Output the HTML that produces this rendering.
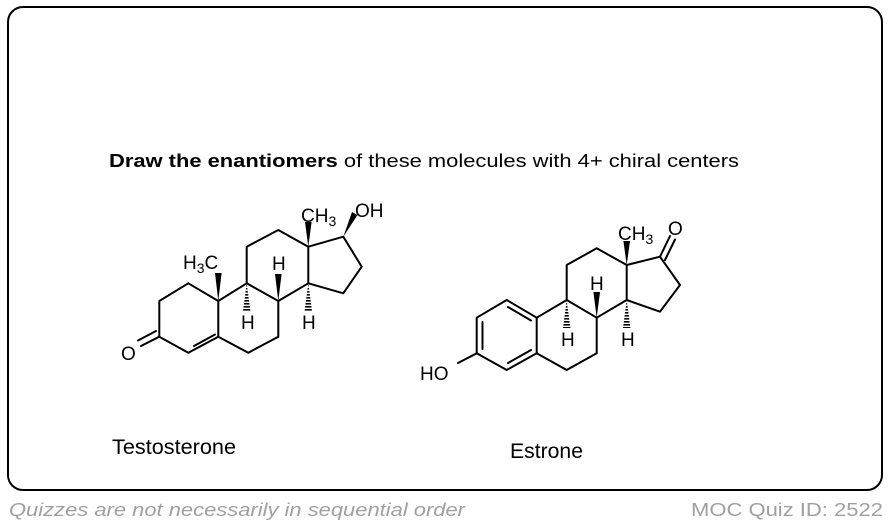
<!DOCTYPE html>
<html><head><meta charset="utf-8"><style>
html,body{margin:0;padding:0;background:#fff;}
svg{display:block;}
text{font-family:"Liberation Sans",Arial,sans-serif;}
</style></head><body>
<svg width="890" height="526" viewBox="0 0 890 526" xmlns="http://www.w3.org/2000/svg">
<defs>
<pattern id="hash" width="3" height="3" patternUnits="userSpaceOnUse"><rect width="3" height="1.6" fill="#000"/></pattern>
</defs>
<rect x="8" y="7" width="874" height="483" rx="15" ry="15" fill="#fff" stroke="#000" stroke-width="2"/>
<text x="109" y="167" font-size="18" textLength="630" lengthAdjust="spacingAndGlyphs"><tspan font-weight="bold">Draw the enantiomers</tspan> of these molecules with 4+ chiral centers</text>

<g stroke="#000" stroke-width="2" fill="none" stroke-linejoin="round" stroke-linecap="round">
<polyline points="188.3,283.3 159.3,301 159.3,336.7 188.3,352.7 218.3,336.7 218.3,301 188.3,283.3"/>
<line x1="159.3" y1="336.7" x2="141" y2="346"/>
<line x1="156" y1="331" x2="138" y2="340.5"/>
<line x1="194" y1="346" x2="215" y2="334.5"/>
<polyline points="218.3,301 246.7,283.3 278.3,301 278.3,336.7 248.3,352.7 218.3,336.7"/>
<polyline points="246.7,283.3 246.7,246.7 278.3,230 308.3,246.7 308.3,283.3 278.3,301"/>
<polyline points="308.3,246.7 343.3,236.7 361.7,266.7 343.3,293.3 308.3,283.3"/>
<polyline points="506.7,300 476.7,317.7 476.7,353.3 506.7,370 536.7,353.3 536.7,317.7 506.7,300"/>
<line x1="508" y1="307" x2="531" y2="320.5"/>
<line x1="482.5" y1="322" x2="482.5" y2="349"/>
<line x1="508" y1="363" x2="531" y2="350"/>
<line x1="476.7" y1="353.3" x2="458" y2="363"/>
<polyline points="536.7,317.7 566.7,300 596.7,317.7 596.7,353.3 566.7,370 536.7,353.3"/>
<polyline points="566.7,300 566.7,265 596.7,248.3 626.7,265 626.7,300 596.7,317.7"/>
<polyline points="626.7,265 660,256.7 680,285 660,311.7 626.7,300"/>
<line x1="660" y1="256.7" x2="670" y2="236"/>
<line x1="665" y1="260" x2="675" y2="239.5"/>
</g>

<g fill="#000">
<polygon points="218.3,301 215,273 221.6,273"/>
<polygon points="308.3,246.7 305,222 311.6,222"/>
<polygon points="343.3,236.7 352,212 357.5,215"/>
<polygon points="278.3,301 275,274 281.6,274"/>
<polygon points="246.7,283.3 243,311 250.4,311" fill="url(#hash)"/>
<polygon points="308.3,283.3 304.6,311 312,311" fill="url(#hash)"/>
<polygon points="626.7,265 623.4,241 630,241"/>
<polygon points="596.7,317.7 593.4,292 600,292"/>
<polygon points="566.7,300 563,328 570.4,328" fill="url(#hash)"/>
<polygon points="626.7,300 623,328 630.4,328" fill="url(#hash)"/>
</g>

<g font-size="19" fill="#000">
<text x="121" y="360">O</text>
<text x="183" y="269">H<tspan font-size="14" dy="4">3</tspan><tspan dy="-4">C</tspan></text>
<text x="301" y="222">CH<tspan font-size="14" dy="4">3</tspan></text>
<text x="355" y="217">OH</text>
<text x="272" y="270">H</text>
<text x="241" y="329">H</text>
<text x="302" y="329">H</text>
<text x="420" y="380">HO</text>
<text x="618" y="240">CH<tspan font-size="14" dy="4">3</tspan></text>
<text x="668" y="235">O</text>
<text x="590" y="290">H</text>
<text x="561" y="346">H</text>
<text x="621" y="346">H</text>
</g>

<text x="112" y="454" font-size="21" textLength="124" lengthAdjust="spacingAndGlyphs">Testosterone</text>
<text x="510" y="458" font-size="21" textLength="73" lengthAdjust="spacingAndGlyphs">Estrone</text>
<text x="9" y="516" font-size="18" font-style="italic" fill="#a0a0a0" textLength="456" lengthAdjust="spacingAndGlyphs">Quizzes are not necessarily in sequential order</text>
<text x="691" y="516" font-size="18" fill="#a0a0a0" textLength="192" lengthAdjust="spacingAndGlyphs">MOC Quiz ID: 2522</text>
</svg>
</body></html>
